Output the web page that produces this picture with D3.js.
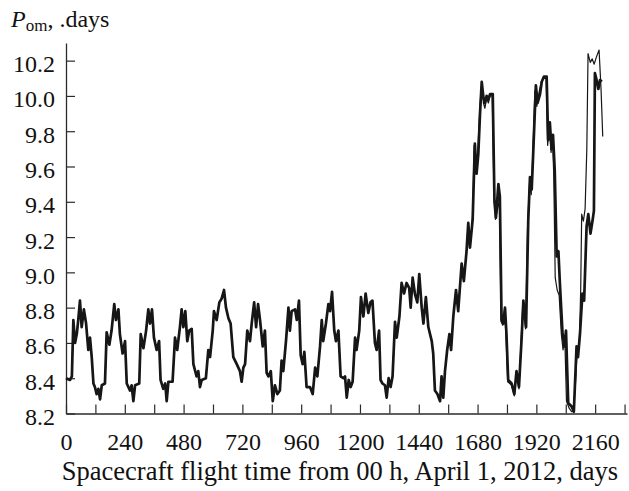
<!DOCTYPE html>
<html>
<head>
<meta charset="utf-8">
<script src="https://cdn.jsdelivr.net/npm/d3@7/dist/d3.min.js"></script>
<style>
  html, body { margin: 0; padding: 0; background: #fff; }
  svg { display: block; }
  text { font-family: "Liberation Serif", "Times New Roman", serif; fill: #111; }
</style>
</head>
<body>
<svg id="chart" width="629" height="491"></svg>
<script>
// Orbital period of the spacecraft, days, versus flight time, days.
// Thick line: measured values; thin line: computed values.
const obsDays = [0,16,24,30,37,44,50,57,64,73,82,91,98,105,112,118,125,132,139,146,159,166,177,186,197,204,214,220,231,241,248,261,268,275,282,299,305,316,327,336,343,351,359,370,380,386,397,405,411,418,435,445,454,465,472,479,487,495,503,513,520,533,540,547,554,571,581,588,599,604,615,626,635,645,653,663,672,683,697,710,717,724,731,740,751,758,768,776,784,792,803,812,819,826,836,844,853,863,873,880,887,898,908,914,921,935,942,951,958,966,973,982,996,1007,1017,1026,1037,1044,1050,1061,1071,1078,1086,1095,1102,1112,1121,1132,1139,1146,1154,1162,1170,1180,1186,1197,1204,1214,1223,1234,1243,1251,1261,1268,1278,1284,1292,1302,1309,1317,1325,1333,1343,1350,1361,1370,1380,1390,1401,1407,1415,1424,1434,1442,1452,1459,1469,1479,1493,1499,1506,1516,1527,1533,1540,1547,1556,1565,1572,1581,1592,1601,1615,1624,1635,1642,1649,1660,1669,1676,1683,1690,1697,1704,1710,1717,1724,1731,1742,1749,1755,1765,1771,1778,1785,1792,1798,1805,1819,1830,1839,1849,1860,1867,1878,1887,1894,1901,1907,1918,1925,1935,1942,1951,1962,1968,1975,1982,1988,1995,2003,2010,2016,2027,2034,2041,2050,2064,2073,2084,2090,2098,2108,2115,2125,2132,2141,2150,2155,2159,2166,2173,2180,2187];
const obsPeriod = [8.40,8.39,8.41,8.73,8.60,8.65,8.73,8.84,8.69,8.79,8.71,8.56,8.63,8.52,8.37,8.35,8.31,8.34,8.28,8.36,8.37,8.66,8.59,8.67,8.82,8.73,8.79,8.65,8.54,8.61,8.37,8.33,8.36,8.27,8.36,8.37,8.65,8.57,8.67,8.79,8.71,8.79,8.63,8.56,8.61,8.39,8.34,8.37,8.27,8.38,8.38,8.63,8.56,8.69,8.79,8.69,8.78,8.61,8.67,8.68,8.48,8.41,8.44,8.35,8.39,8.40,8.56,8.52,8.67,8.78,8.73,8.83,8.85,8.90,8.80,8.74,8.71,8.52,8.48,8.44,8.38,8.46,8.48,8.67,8.61,8.71,8.83,8.69,8.82,8.73,8.58,8.67,8.43,8.41,8.44,8.27,8.36,8.31,8.33,8.50,8.44,8.61,8.80,8.67,8.78,8.79,8.73,8.84,8.53,8.48,8.55,8.35,8.35,8.31,8.46,8.41,8.58,8.73,8.61,8.71,8.82,8.78,8.89,8.67,8.61,8.67,8.41,8.40,8.41,8.29,8.39,8.35,8.38,8.63,8.56,8.67,8.86,8.75,8.88,8.77,8.83,8.84,8.60,8.56,8.67,8.39,8.37,8.36,8.29,8.40,8.35,8.41,8.72,8.63,8.75,8.94,8.88,8.94,8.91,8.80,8.97,8.88,8.83,8.99,8.80,8.71,8.86,8.69,8.61,8.54,8.33,8.31,8.27,8.41,8.29,8.44,8.56,8.65,8.56,8.75,8.90,8.78,9.05,8.95,9.12,9.28,9.14,9.30,9.73,9.56,9.67,9.90,10.08,9.99,9.96,10.00,9.98,10.01,10.01,9.40,9.31,9.50,9.43,8.73,8.71,8.80,8.65,8.39,8.37,8.31,8.44,8.35,8.63,8.84,8.69,9.30,9.54,9.47,9.67,10.06,9.96,10.01,10.08,10.11,10.11,9.75,9.85,9.70,9.78,9.58,9.09,9.12,8.94,8.65,8.58,8.67,8.26,8.24,8.21,8.58,8.52,8.65,8.88,8.84,9.26,9.33,9.22,9.30,9.35,10.13,10.09,10.04,10.09,10.08];

const calcDays = [0,16,24,30,37,44,50,57,64,73,82,91,98,105,112,118,125,132,139,146,159,166,177,186,197,204,214,220,231,241,248,261,268,275,282,299,305,316,327,336,343,351,359,370,380,386,397,405,411,418,435,445,454,465,472,479,487,495,503,513,520,533,540,547,554,571,581,588,599,604,615,626,635,645,653,663,672,683,697,710,717,724,731,740,751,758,768,776,784,792,803,812,819,826,836,844,853,863,873,880,887,898,908,914,921,935,942,951,958,966,973,982,996,1007,1017,1026,1037,1044,1050,1061,1071,1078,1086,1095,1102,1112,1121,1132,1139,1146,1154,1162,1170,1180,1186,1197,1204,1214,1223,1234,1243,1251,1261,1268,1278,1284,1292,1302,1309,1317,1325,1333,1343,1350,1361,1370,1380,1390,1401,1407,1415,1424,1434,1442,1452,1459,1469,1479,1493,1499,1506,1516,1527,1533,1540,1547,1556,1565,1572,1581,1592,1601,1615,1624,1635,1642,1650,1660,1666,1673,1681,1690,1697,1704,1710,1717,1724,1731,1740,1747,1753,1762,1769,1776,1783,1790,1796,1803,1819,1830,1839,1849,1858,1865,1876,1884,1892,1899,1905,1914,1922,1931,1940,1950,1960,1966,1973,1980,1986,1991,1997,2005,2013,2022,2029,2036,2043,2054,2064,2072,2080,2087,2095,2101,2105,2112,2119,2126,2131,2140,2148,2156,2165,2176,2184,2191];
const calcPeriod = [8.40,8.39,8.41,8.73,8.60,8.65,8.73,8.84,8.69,8.79,8.71,8.56,8.63,8.52,8.37,8.35,8.31,8.34,8.28,8.36,8.37,8.66,8.59,8.67,8.82,8.73,8.79,8.65,8.54,8.61,8.37,8.33,8.36,8.27,8.36,8.37,8.65,8.57,8.67,8.79,8.71,8.79,8.63,8.56,8.61,8.39,8.34,8.37,8.27,8.38,8.38,8.63,8.56,8.69,8.79,8.69,8.78,8.61,8.67,8.68,8.48,8.41,8.44,8.35,8.39,8.40,8.56,8.52,8.67,8.78,8.73,8.83,8.85,8.90,8.80,8.74,8.71,8.52,8.48,8.44,8.38,8.46,8.48,8.67,8.61,8.71,8.83,8.69,8.82,8.73,8.58,8.67,8.43,8.41,8.44,8.27,8.36,8.31,8.33,8.50,8.44,8.61,8.80,8.67,8.78,8.79,8.73,8.84,8.53,8.48,8.55,8.35,8.35,8.31,8.46,8.41,8.58,8.73,8.61,8.71,8.82,8.78,8.89,8.67,8.61,8.67,8.41,8.40,8.41,8.29,8.39,8.35,8.38,8.63,8.56,8.67,8.86,8.75,8.88,8.77,8.83,8.84,8.60,8.56,8.67,8.39,8.37,8.36,8.29,8.40,8.35,8.41,8.72,8.63,8.75,8.94,8.88,8.94,8.91,8.80,8.97,8.88,8.83,8.99,8.80,8.71,8.86,8.69,8.61,8.54,8.33,8.31,8.27,8.41,8.29,8.44,8.56,8.65,8.56,8.75,8.90,8.78,9.05,8.95,9.12,9.27,9.15,9.32,9.72,9.60,9.69,9.95,10.07,9.96,9.93,9.99,9.96,10.00,10.00,9.45,9.30,9.36,9.41,8.72,8.70,8.79,8.64,8.38,8.36,8.30,8.43,8.34,8.62,8.83,8.68,9.25,9.50,9.44,9.65,10.03,9.94,10.02,10.08,10.10,10.10,9.72,9.84,9.68,9.76,9.55,8.97,8.90,8.87,8.65,8.56,8.63,8.27,8.23,8.21,8.22,8.38,8.57,8.58,8.90,9.33,9.29,9.36,9.70,10.24,10.19,10.21,10.18,10.22,10.26,10.04,9.77];

const xTicks = d3.range(0, 2281, 120);
const xLabelStep = 240;
const yTicks = [8.2, 8.4, 8.6, 8.8, 9.0, 9.2, 9.4, 9.6, 9.8, 10.0, 10.2];
const xTitle = "Spacecraft flight time from 00 h, April 1, 2012, days";

const svg = d3.select("#chart");

const x = d3.scaleLinear().domain([0, 2290]).range([66, 627]);
const y = d3.scaleLinear().domain([8.2, 10.3]).range([413.5, 43]);

const axisColor = "#2a2a2a";

// x axis: ticks pointing up into the plot
const gx = svg.append("g")
  .attr("transform", `translate(0,${y(8.2)})`)
  .call(d3.axisBottom(x)
    .tickValues(xTicks)
    .tickSizeInner(-9)
    .tickSizeOuter(0)
    .tickFormat(d => d % xLabelStep === 0 ? d : ""));
gx.select(".domain").attr("stroke", axisColor).attr("stroke-width", 1.3);
gx.selectAll(".tick line").attr("stroke", axisColor).attr("stroke-width", 1.2);
gx.selectAll(".tick text")
  .attr("y", 36).attr("dy", 0)
  .style("font-size", "24px")
  .style("font-family", "'Liberation Serif', serif")
  .attr("fill", "#111");

// y axis: ticks pointing right into the plot
const gy = svg.append("g")
  .attr("transform", `translate(${x(0)},0)`)
  .call(d3.axisLeft(y)
    .tickValues(yTicks)
    .tickSizeInner(-9)
    .tickSizeOuter(0)
    .tickFormat(d3.format(".1f")));
gy.select(".domain").attr("stroke", axisColor).attr("stroke-width", 1.3);
gy.selectAll(".tick line").attr("stroke", axisColor).attr("stroke-width", 1.2);
gy.selectAll(".tick text")
  .attr("x", -11).attr("dy", "0.46em")
  .style("font-size", "24px")
  .style("font-family", "'Liberation Serif', serif")
  .attr("fill", "#111");

const line = d3.line().x(d => x(d[0])).y(d => y(d[1]));

// computed series (thin)
svg.append("path")
  .datum(d3.zip(calcDays, calcPeriod))
  .attr("fill", "none")
  .attr("stroke", "#161616")
  .attr("stroke-width", 1.2)
  .attr("stroke-linejoin", "round")
  .attr("d", line);

// measured series (thick)
svg.append("path")
  .datum(d3.zip(obsDays, obsPeriod))
  .attr("fill", "none")
  .attr("stroke", "#161616")
  .attr("stroke-width", 2.7)
  .attr("stroke-linejoin", "round")
  .attr("d", line);

// axis titles
const yTitle = svg.append("text")
  .attr("x", 11).attr("y", 27)
  .style("font-size", "24px");
yTitle.append("tspan").style("font-style", "italic").text("P");
yTitle.append("tspan").attr("dy", 4).style("font-size", "17px").text("om");
yTitle.append("tspan").attr("dy", -4).text(", .days");

svg.append("text")
  .attr("x", 340).attr("y", 480)
  .attr("text-anchor", "middle")
  .style("font-size", "26.5px")
  .text(xTitle);
</script>
</body>
</html>
